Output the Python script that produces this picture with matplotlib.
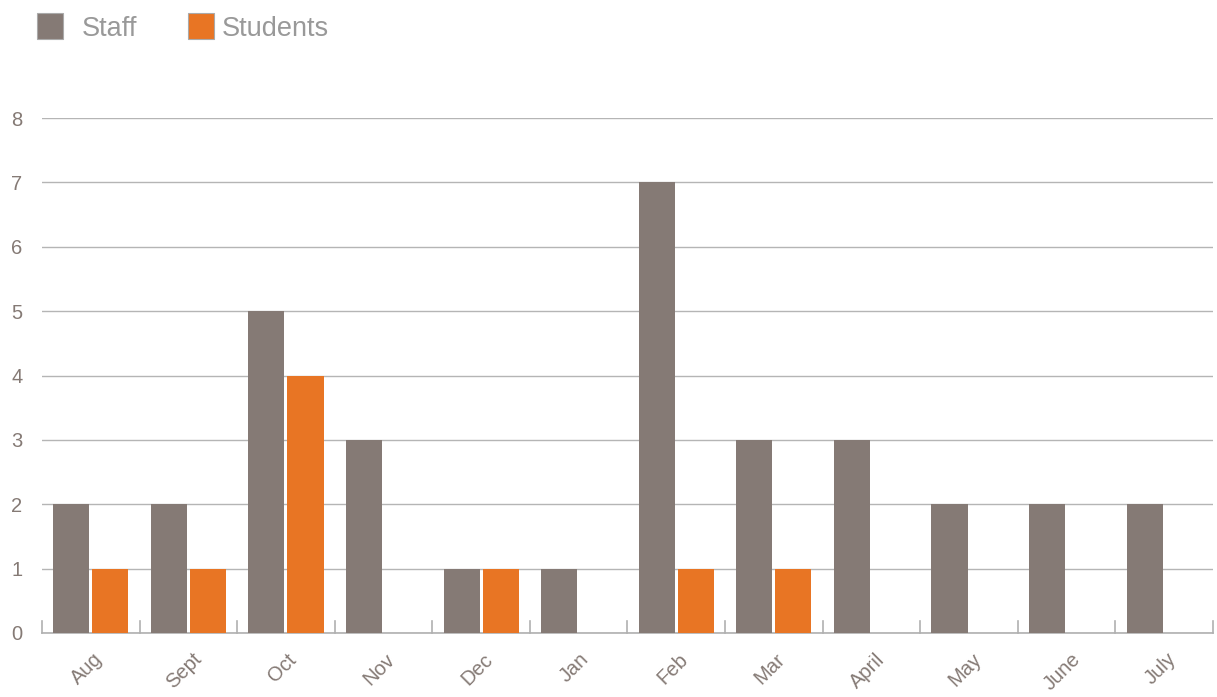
import numpy as np
from matplotlib import pyplot as plt
from matplotlib.patches import Rectangle
from matplotlib.transforms import ScaledTranslation

# Data
months = ['Aug', 'Sept', 'Oct', 'Nov', 'Dec', 'Jan', 'Feb', 'Mar', 'April', 'May', 'June', 'July']
staff = [2, 2, 5, 3, 1, 1, 7, 3, 3, 2, 2, 2]
students = [1, 1, 4, 0, 1, 0, 1, 1, 0, 0, 0, 0]

staff_color = '#857a75'
student_color = '#e87524'
text_color = '#857a75'

plt.rcParams['font.family'] = ['Liberation Sans', 'DejaVu Sans']

fig = plt.figure(figsize=(12.17, 6.97), dpi=100)
ax = fig.add_axes([42 / 1217, 64 / 697, 1171 / 1217, 515 / 697])

x = np.arange(len(months))
width = 0.37
gap = 0.03
ax.bar(x - width / 2 - gap / 2, staff, width, color=staff_color, zorder=3)
ax.bar(x + width / 2 + gap / 2, students, width, color=student_color, zorder=3)

ax.set_xlim(-0.5, len(months) - 0.5)
ax.set_ylim(0, 8)
ax.set_yticks(range(0, 9))
ax.yaxis.grid(True, color='#b5b5b5', linewidth=1)
ax.set_axisbelow(True)

for side in ['top', 'right', 'left']:
    ax.spines[side].set_visible(False)
ax.spines['bottom'].set_color('#b0b0b0')
ax.spines['bottom'].set_linewidth(1.2)

ax.tick_params(axis='y', length=0, labelsize=14.5, labelcolor=text_color, pad=22)
ax.tick_params(axis='x', length=0, labelcolor=text_color, pad=12)
ax.set_xticks(x)
ax.set_xticklabels(months, rotation=45, ha='center', va='top', fontsize=14.5)
shift = ScaledTranslation(-4 / 100, 0, fig.dpi_scale_trans)
for lab in ax.get_xticklabels():
    lab.set_transform(lab.get_transform() + shift)
for lab in ax.get_yticklabels():
    lab.set_horizontalalignment('left')

# Category boundary ticks along the base
for b in np.arange(-0.5, len(months) + 0.5, 1.0):
    ax.plot([b, b], [0, 0.19], color='#b0b0b0', linewidth=1.2, zorder=2, clip_on=False)

# Legend drawn at top-left
fig.patches.append(Rectangle((37 / 1217, 1 - 39 / 697), 26 / 1217, 26 / 697,
                             transform=fig.transFigure, facecolor=staff_color,
                             edgecolor='#aaaaaa', linewidth=0.8))
fig.text(82 / 1217, 1 - 29 / 697, 'Staff', fontsize=19.5, color='#999999', va='center')
fig.patches.append(Rectangle((188 / 1217, 1 - 39 / 697), 26 / 1217, 26 / 697,
                             transform=fig.transFigure, facecolor=student_color,
                             edgecolor='#aaaaaa', linewidth=0.8))
fig.text(222 / 1217, 1 - 29 / 697, 'Students', fontsize=19.5, color='#999999', va='center')

fig.savefig('out.png', dpi=100)
